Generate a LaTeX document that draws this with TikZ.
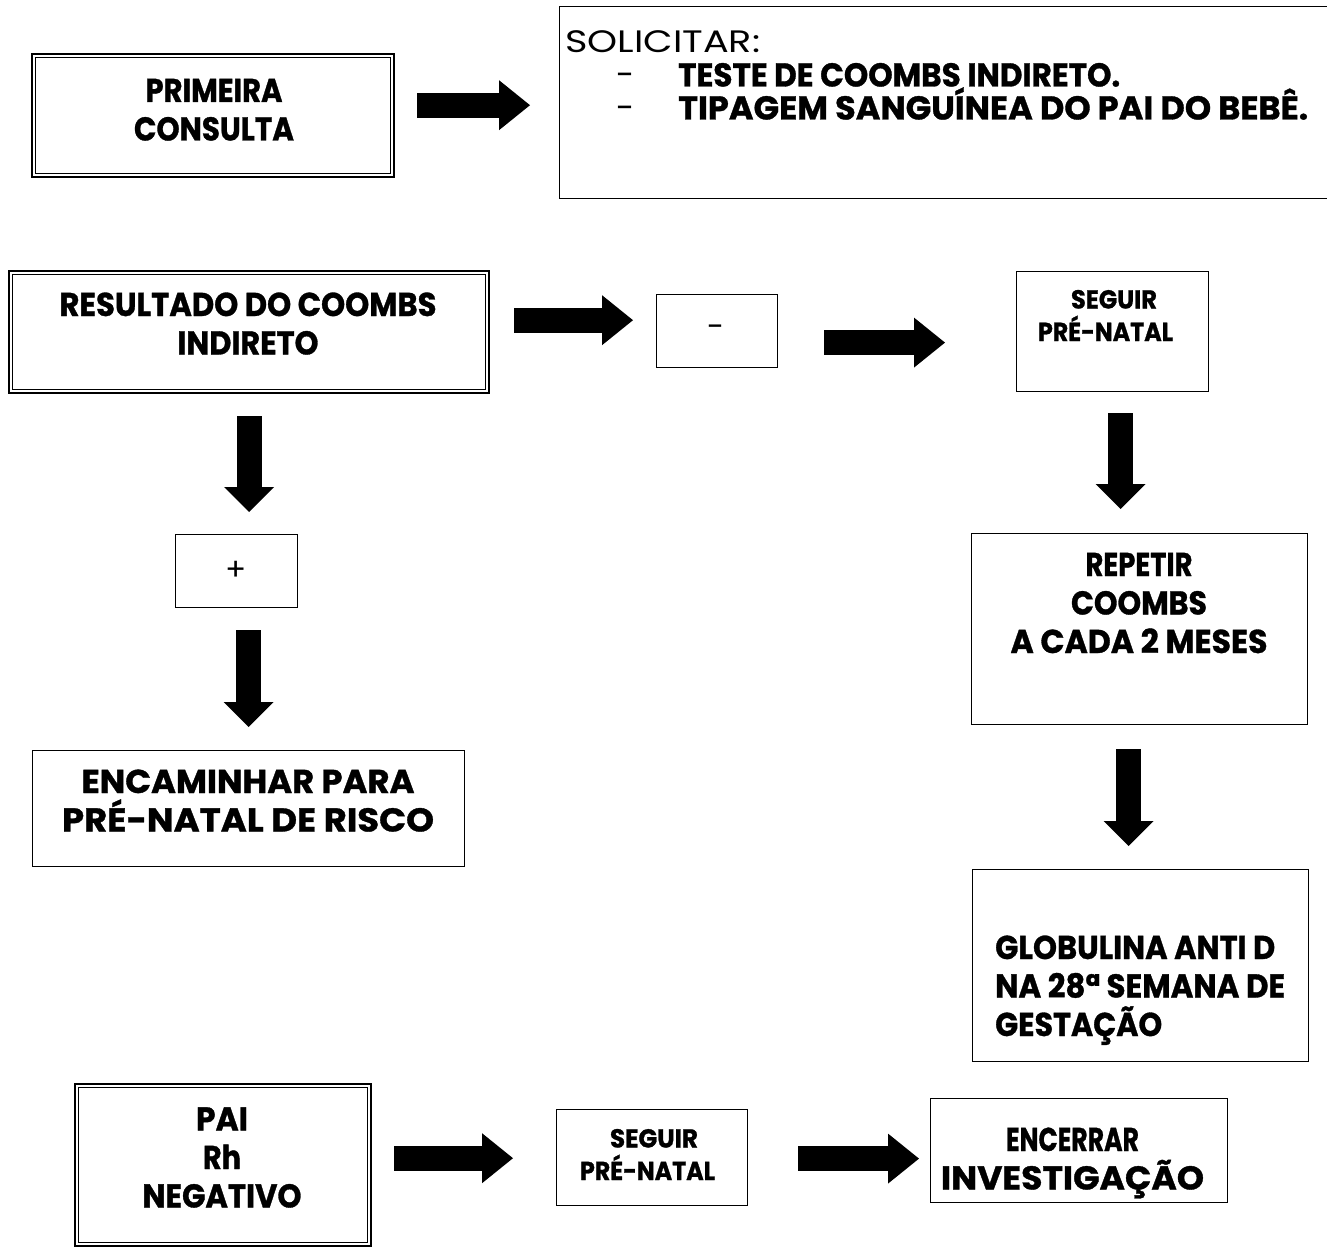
\documentclass[tikz,border=0pt]{standalone}
\usepackage{graphicx}
\usepackage{fontspec}
\setmainfont{Poppins}[BoldFeatures={FakeBold=1.0}]
\usetikzlibrary{arrows.meta}
% set a line of text to an exact width, keeping its height
\newcommand\W[2]{\resizebox{#1pt}{\height}{#2}}

\begin{document}
\begin{tikzpicture}[x=1pt,y=-1pt,
  box/.style={draw, line width=1.2pt, inner sep=0pt, anchor=north west},
  dbox/.style={draw, line width=2.4pt, inner sep=0pt, anchor=north west},
  innerline/.style={draw, line width=1.1pt},
  bigb/.style={inner sep=0pt, align=center, anchor=base, font=\bfseries\fontsize{33}{38.5}\selectfont},
  smallb/.style={inner sep=0pt, align=center, anchor=base, font=\bfseries\fontsize{26}{32.5}\selectfont},
  reg/.style={inner sep=0pt, font=\fontsize{31}{38}\selectfont},
  harr/.style={line width=25pt, -{Triangle[length=31pt,width=50pt,line width=0pt]}},
  varr/.style={line width=25pt, -{Triangle[length=25pt,width=50pt,line width=0pt]}},
]
\clip (0,0) rectangle (1327,1249);
\fill[white] (0,0) rectangle (1327,1249);

% boxes
\node[dbox, minimum width=362pt, minimum height=123pt] (prim) at (31,53) {};
\node[box,  minimum width=800pt, minimum height=192pt] (sol)  at (559,6) {};
\node[dbox, minimum width=480pt, minimum height=122pt] (res)  at (8,270) {};
\node[box,  minimum width=121pt, minimum height=73pt]  (dash) at (656,294) {};
\node[box,  minimum width=192pt, minimum height=120pt] (seg1) at (1016,271) {};
\node[box,  minimum width=122pt, minimum height=73pt]  (plus) at (175,534) {};
\node[box,  minimum width=432pt, minimum height=116pt] (enc)  at (32,750) {};
\node[box,  minimum width=336pt, minimum height=191pt] (rep)  at (971,533) {};
\node[box,  minimum width=336pt, minimum height=192pt] (glob) at (972,869) {};
\node[dbox, minimum width=296pt, minimum height=162pt] (pai)  at (74,1083) {};
\node[box,  minimum width=191pt, minimum height=96pt]  (seg2) at (556,1109) {};
\node[box,  minimum width=297pt, minimum height=104pt] (fin)  at (930,1098) {};

% inner line of the double-framed boxes
\foreach \b in {prim,res,pai}
  \draw[innerline] ([shift={(4.5pt,-4.5pt)}]\b.north west) rectangle
                   ([shift={(-4.5pt,4.5pt)}]\b.south east);

% texts (anchor base = baseline of the last line)
\node[bigb] (primt) at (214,140.5) {\W{137}{PRIMEIRA}\\\W{160}{CONSULTA}};
\node[reg, anchor=base west] (solt) at (565,53) {\W{195}{SOLICITAR:}};
\node[bigb, align=left, anchor=base west, font=\bfseries\fontsize{33}{33}\selectfont] (solitems) at (616,119.5)
  {\makebox[62pt][l]{\mdseries -}\W{442}{TESTE DE COOMBS INDIRETO.}\\
   \makebox[62pt][l]{\mdseries -}\W{630}{TIPAGEM SANGUÍNEA DO PAI DO BEBÊ.}};
\node[bigb] (rest) at (248,354.5) {\W{377}{RESULTADO DO COOMBS}\\\W{141}{INDIRETO}};
\node[reg] (dasht) at (716,331) {-};
\node[smallb] (seg1t) at (1105.5,341) {\hspace*{17pt}\W{86}{SEGUIR}\\\W{135}{PRÉ-NATAL}};
\node[reg] (plust) at (236,571) {+};
\node[bigb] (enct) at (248,831.5) {\W{333}{ENCAMINHAR PARA}\\\W{372}{PRÉ-NATAL DE RISCO}};
\node[bigb] (rept) at (1139,653) {\W{107}{REPETIR}\\\W{136}{COOMBS}\\\W{257}{A CADA 2 MESES}};
\node[bigb, align=left, anchor=base west] (globt) at (995,1036)
  {\W{280}{GLOBULINA ANTI D}\\\W{290}{NA 28ª SEMANA DE}\\\W{167}{GESTAÇÃO}};
\node[bigb] (pait) at (222,1207.5) {\W{52}{PAI}\\\W{38}{Rh}\\\W{159}{NEGATIVO}};
\node[smallb] (seg2t) at (647.5,1180) {\hspace*{13pt}\W{88}{SEGUIR}\\\W{135}{PRÉ-NATAL}};
\node[bigb] (fint) at (1072.5,1189.5) {\W{133}{ENCERRAR}\\\W{263}{INVESTIGAÇÃO}};

% block arrows
\coordinate (a1s) at ([xshift=22pt,yshift=10.5pt]prim.east);
\coordinate (a1e) at (a1s -| sol.west);
\draw[harr, shorten >=29pt] (a1s) -- (a1e);

\coordinate (a2s) at ([xshift=24pt,yshift=12pt]res.east);
\coordinate (a2e) at (a2s -| dash.west);
\draw[harr, shorten >=23pt] (a2s) -- (a2e);

\coordinate (a3s) at ([xshift=46pt,yshift=-11.5pt]dash.east);
\coordinate (a3e) at (a3s -| seg1.west);
\draw[harr, shorten >=71pt] (a3s) -- (a3e);

\coordinate (a4s) at ([yshift=-22pt]res.south);
\coordinate (a4e) at (a4s |- plus.north);
\draw[varr, shorten >=22pt] (a4s) -- (a4e);

\coordinate (a5s) at ([xshift=12pt,yshift=-22pt]plus.south);
\coordinate (a5e) at (a5s |- enc.north);
\draw[varr, shorten >=23pt] (a5s) -- (a5e);

\coordinate (a6s) at ([xshift=8pt,yshift=-21pt]seg1.south);
\coordinate (a6e) at (a6s |- rep.north);
\draw[varr, shorten >=24pt] (a6s) -- (a6e);

\coordinate (a7s) at ([xshift=-11pt,yshift=-24pt]rep.south);
\coordinate (a7e) at (a7s |- glob.north);
\draw[varr, shorten >=23pt] (a7s) -- (a7e);

\coordinate (a8s) at ([xshift=22pt,yshift=7pt]pai.east);
\coordinate (a8e) at (a8s -| seg2.west);
\draw[harr, shorten >=43pt] (a8s) -- (a8e);

\coordinate (a9s) at ([xshift=50pt,yshift=-1pt]seg2.east);
\coordinate (a9e) at (a9s -| fin.west);
\draw[harr, shorten >=11pt] (a9s) -- (a9e);
\end{tikzpicture}
\end{document}
